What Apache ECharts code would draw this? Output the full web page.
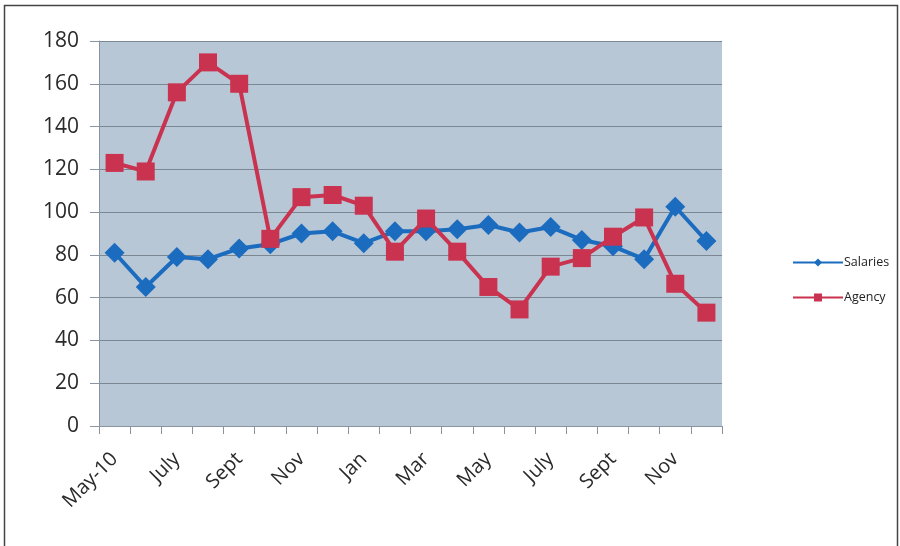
<!DOCTYPE html>
<html>
<head>
<meta charset="utf-8">
<script src="https://cdn.jsdelivr.net/npm/echarts@6/dist/echarts.min.js"></script>
<style>
  html, body { margin: 0; padding: 0; background: #fff; }
  #chart { width: 900px; height: 546px; }
</style>
</head>
<body>
<div id="chart"></div>
<script>
// Monthly categories, May 2010 to December 2011
const months = ['May-10', 'June', 'July', 'Aug', 'Sept', 'Oct', 'Nov', 'Dec',
  'Jan', 'Feb', 'Mar', 'Apr', 'May', 'June', 'July', 'Aug', 'Sept', 'Oct', 'Nov', 'Dec'];

const salaries = [81, 65, 79, 78, 83, 85, 90, 91, 85.5, 91, 91, 92, 94, 90.5, 93, 87, 84, 78, 102.5, 86.5];
const agency = [123, 119, 156, 170, 160, 87.5, 107, 108, 103, 81.5, 97, 81.5, 65, 54.5, 74.5, 78.5, 88.5, 97.5, 66.5, 53];

const yTicks = { min: 0, max: 180, interval: 20 };

const chart = echarts.init(document.getElementById('chart'));
const fontFamily = '"Open Sans", "Liberation Sans", sans-serif';

chart.setOption({
  animation: false,
  backgroundColor: '#ffffff',
  graphic: [{
    type: 'rect',
    shape: { x: 4.5, y: 5.5, width: 893, height: 545 },
    style: { fill: 'none', stroke: '#444', lineWidth: 1.5 },
    silent: true
  }],
  grid: {
    left: 99, right: 178, top: 41, bottom: 120,
    show: true, backgroundColor: '#b8c7d6', borderWidth: 0
  },
  legend: {
    orient: 'vertical',
    left: 787, top: 251,
    itemGap: 22,
    itemWidth: 50, itemHeight: 10,
    textStyle: { fontFamily: fontFamily, fontSize: 12.5, color: '#222', padding: [0, 0, 0, -4] },
    data: ['Salaries', 'Agency']
  },
  xAxis: {
    type: 'category',
    data: months,
    boundaryGap: true,
    axisLine: { lineStyle: { color: '#8a94a0', width: 1 } },
    axisTick: { show: true, interval: 0, length: 8, lineStyle: { color: '#8a94a0' } },
    axisLabel: {
      interval: 1, rotate: 45, margin: 30,
      fontFamily: fontFamily, fontSize: 20, color: '#2a2a2a'
    },
    splitLine: { show: false }
  },
  yAxis: {
    type: 'value',
    min: yTicks.min, max: yTicks.max, interval: yTicks.interval,
    axisLine: { show: true, lineStyle: { color: '#8a94a0', width: 1 } },
    axisTick: { show: true, length: 9, lineStyle: { color: '#8a94a0' } },
    axisLabel: { margin: 20, fontFamily: fontFamily, fontSize: 21, color: '#2a2a2a' },
    splitLine: { show: true, lineStyle: { color: '#7c8794', width: 1.2 } }
  },
  series: [
    {
      name: 'Salaries', type: 'line', data: salaries,
      symbol: 'diamond', symbolSize: 20,
      lineStyle: { color: '#1b6cbf', width: 4 },
      itemStyle: { color: '#1b6cbf' },
      z: 2
    },
    {
      name: 'Agency', type: 'line', data: agency,
      symbol: 'rect', symbolSize: 18,
      lineStyle: { color: '#c9334f', width: 4 },
      itemStyle: { color: '#c9334f' },
      z: 3
    }
  ]
});
</script>
</body>
</html>
